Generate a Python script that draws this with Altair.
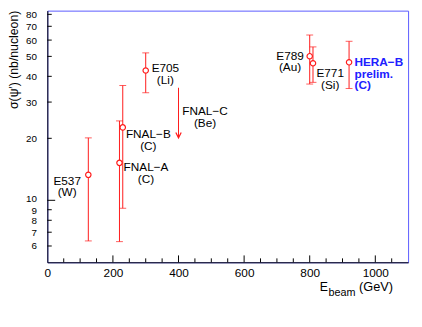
import altair as alt
import pandas as pd

# ---- data ----
experiments = ["E537", "FNAL−A", "FNAL−B", "E705", "E789", "E771", "HERA−B"]
targets = ["W", "C", "C", "Li", "Au", "Si", "C"]
ebeam = [125, 220, 230, 300, 800, 810, 920]
sigma = [13.3, 15.2, 22.6, 42.7, 50.1, 46.3, 46.8]
sigma_hi = [20.1, 24.3, 36.1, 52.0, 63.5, 55.6, 59.2]
sigma_lo = [6.35, 6.3, 9.15, 33.3, 36.7, 37.4, 34.9]

limit_names = ["FNAL−C"]
limit_targets = ["Be"]
limit_ebeam = [400]
limit_top = [35.2]
limit_tip = [20.1]

x_labels = [0, 200, 400, 600, 800, 1000]
x_major = [200, 400, 600, 800, 1000]
x_minor = [50, 100, 150, 250, 300, 350, 450, 500, 550, 650, 700, 750, 850, 900, 950, 1050]
y_labels = [6, 7, 8, 9, 10, 20, 30, 40, 50, 60, 70, 80]
y_major = [10]
y_minor = [6, 7, 8, 9, 20, 30, 40, 50, 60, 70, 80]

# ---- styling ----
FONT = "Liberation Sans"
RED = "#ff1a1a"
BLUE = "#2020ff"
W, H = 367, 256

xscale = alt.Scale(domain=[0, 1100], nice=False, zero=False)
yscale = alt.Scale(type="log", domain=[5, 83.4], nice=False)

df = pd.DataFrame({"exp": experiments, "tgt": targets, "e": ebeam,
                   "s": sigma, "hi": sigma_hi, "lo": sigma_lo})
lim = pd.DataFrame({"exp": limit_names, "tgt": limit_targets, "e": limit_ebeam,
                    "top": limit_top, "tip": limit_tip})

xax = alt.Axis(values=x_labels, format="d", ticks=False, grid=False, domainColor="black",
               domainWidth=1, labelFont=FONT, labelFontSize=12, labelColor="black",
               labelPadding=5, title=None, labelFlush=False)
yax = alt.Axis(values=y_labels, format="d", ticks=False, grid=False, domainColor="black",
               domainWidth=1, labelFont=FONT, labelFontSize=10, labelColor="black",
               labelPadding=11, title=None, labelOverlap=False, labelFlush=False,
               labelBound=False,
               labelOffset=alt.ExprRef(expr="datum.value == 10 ? -1.5 : (datum.value == 9 ? 0.8 : 0)"))


def X(f):
    return alt.X(f, scale=xscale, axis=xax)


def Y(f):
    return alt.Y(f, scale=yscale, axis=yax)


bars = alt.Chart(df).mark_rule(color=RED, strokeWidth=1).encode(
    x=X("e:Q"), y=Y("lo:Q"), y2="hi:Q")
cap_hi = alt.Chart(df).mark_tick(color=RED, orient="horizontal", size=7, thickness=1).encode(
    x=X("e:Q"), y=Y("hi:Q"))
cap_lo = alt.Chart(df).mark_tick(color=RED, orient="horizontal", size=7, thickness=1).encode(
    x=X("e:Q"), y=Y("lo:Q"))
pts = alt.Chart(df).mark_point(shape="circle", filled=True, fill="white", stroke=RED,
                               strokeWidth=1.2, size=30, opacity=1).encode(
    x=X("e:Q"), y=Y("s:Q"))

arrow_line = alt.Chart(lim).mark_rule(color=RED, strokeWidth=1).encode(
    x=X("e:Q"), y=Y("top:Q"), y2="tip:Q")
arrow_head = alt.Chart(lim).mark_point(shape="M-1,-2L0,0L1,-2", filled=False, stroke=RED,
                                       strokeWidth=1.2, size=30, opacity=1).encode(
    x=X("e:Q"), y=Y("tip:Q"))

# label offsets (pixel styling), keyed by experiment
label_style = {
    "E537": dict(align="center", dx=-21.5, dy=1),
    "FNAL−A": dict(align="center", dx=27, dy=-1),
    "FNAL−B": dict(align="center", dx=26, dy=2),
    "E705": dict(align="center", dx=20, dy=-7.5),
    "E789": dict(align="center", dx=-20, dy=-5.5),
    "E771": dict(align="center", dx=17.5, dy=5),
}
labels = []
for name, tgt, e, s in zip(experiments, targets, ebeam, sigma):
    if name == "HERA−B":
        txt = "HERA−B\nprelim.\n\u00a0\u00a0(" + tgt + ")"
        st = dict(align="left", dx=5.5, dy=-5.5, fontWeight="bold", color=BLUE)
    else:
        txt = name + "\n(" + tgt + ")"
        st = dict(color="black", **label_style[name])
    d = pd.DataFrame({"e": [e], "s": [s], "t": [txt]})
    labels.append(alt.Chart(d).mark_text(baseline="top", lineBreak="\n", lineHeight=12,
                                         font=FONT, fontSize=12, **st).encode(
        x=X("e:Q"), y=Y("s:Q"), text="t:N"))
for name, tgt, e, top in zip(limit_names, limit_targets, limit_ebeam, limit_top):
    d = pd.DataFrame({"e": [e], "s": [top], "t": [name + "\n(" + tgt + ")"]})
    labels.append(alt.Chart(d).mark_text(baseline="top", lineBreak="\n", lineHeight=12,
                                         font=FONT, fontSize=12, align="center",
                                         dx=27, dy=19, color="black").encode(
        x=X("e:Q"), y=Y("s:Q"), text="t:N"))


# inward axis ticks
def xticks(vals, length):
    return alt.Chart(pd.DataFrame({"v": vals})).mark_rule(color="black", strokeWidth=1).encode(
        x=X("v:Q"), y=alt.value(H), y2=alt.value(H - length))


def yticks(vals, length):
    return alt.Chart(pd.DataFrame({"v": vals})).mark_rule(color="black", strokeWidth=1).encode(
        y=Y("v:Q"), x=alt.value(0), x2=alt.value(length))


one = pd.DataFrame({"a": [0]})
ytitle = alt.Chart(one).mark_text(text="σ(ψ′) (nb/nucleon)", angle=270, align="right",
                                  baseline="middle", font=FONT, fontSize=12.5,
                                  color="black").encode(x=alt.value(-34), y=alt.value(0))
xt_E = alt.Chart(one).mark_text(text="E", align="left", baseline="alphabetic", font=FONT,
                                fontSize=12.5, color="black").encode(x=alt.value(277), y=alt.value(285.5))
xt_sub = alt.Chart(one).mark_text(text="beam", align="left", baseline="alphabetic", font=FONT,
                                  fontSize=11, color="black").encode(x=alt.value(286), y=alt.value(290))
xt_unit = alt.Chart(one).mark_text(text="(GeV)", align="left", baseline="alphabetic", font=FONT,
                                   fontSize=13, color="black").encode(x=alt.value(317), y=alt.value(285.5))

chart = alt.layer(
    xticks(x_major, 7), xticks(x_minor, 4), yticks(y_major, 8), yticks(y_minor, 4.5),
    bars, cap_hi, cap_lo, arrow_line, arrow_head, pts, *labels,
    ytitle, xt_E, xt_sub, xt_unit
).properties(
    width=W, height=H,
    autosize=alt.AutoSizeParams(type="none"),
    padding={"left": 40, "top": 0, "right": 6, "bottom": 55},
).configure_view(stroke="#5a5aff", strokeWidth=1)

chart.save("out.html", embed_options={"renderer": "svg", "actions": False})
